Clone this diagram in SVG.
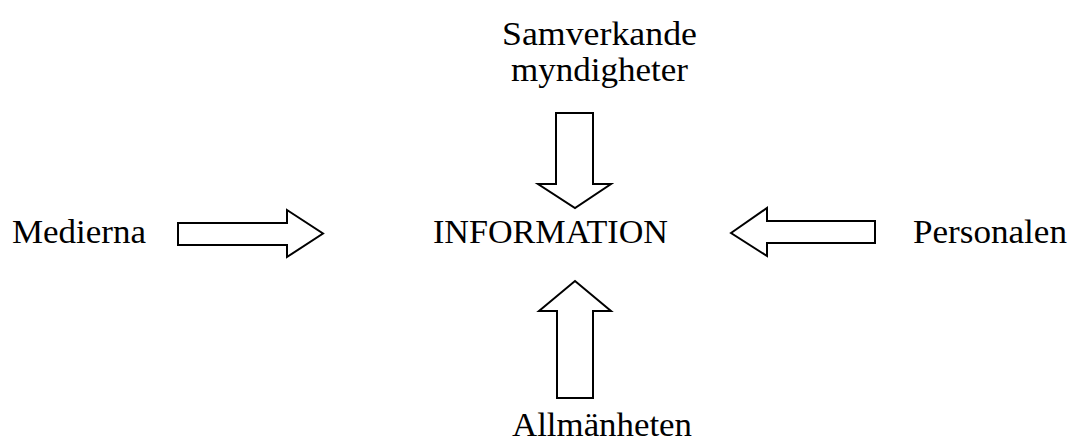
<svg xmlns="http://www.w3.org/2000/svg" width="1070" height="443" viewBox="0 0 1070 443">
<style>
.t{font-family:"Liberation Serif","DejaVu Serif",serif;font-size:34px;fill:#000}
.a{fill:#fff;stroke:#000;stroke-width:2;stroke-linejoin:miter}
</style>
<rect width="1070" height="443" fill="#fff"/>
<g id="node-information"><text class="t" x="433" y="243" textLength="235" lengthAdjust="spacingAndGlyphs">INFORMATION</text></g>
<g id="node-medierna"><text class="t" x="12" y="243" textLength="134" lengthAdjust="spacingAndGlyphs">Medierna</text></g>
<g id="node-personalen"><text class="t" x="913" y="243" textLength="154" lengthAdjust="spacingAndGlyphs">Personalen</text></g>
<g id="node-samverkande"><text class="t" x="502" y="45" textLength="195" lengthAdjust="spacingAndGlyphs">Samverkande</text><text class="t" x="511" y="81" textLength="177" lengthAdjust="spacingAndGlyphs">myndigheter</text></g>
<g id="node-allmanheten"><text class="t" x="512" y="436" textLength="180" lengthAdjust="spacingAndGlyphs">Allmänheten</text></g>
<g id="connectors">
<polygon class="a" points="556,113 593,113 593,184 611,184 575,208 538,184 556,184"/>
<polygon class="a" points="575,281 611,311 593,311 593,398 557,398 557,311 539,311"/>
<polygon class="a" points="178,223 287,223 287,210 323,233.5 287,257 287,245 178,245"/>
<polygon class="a" points="731,233 767,208 767,221 875,221 875,243 767,243 767,256"/>
</g>
</svg>
